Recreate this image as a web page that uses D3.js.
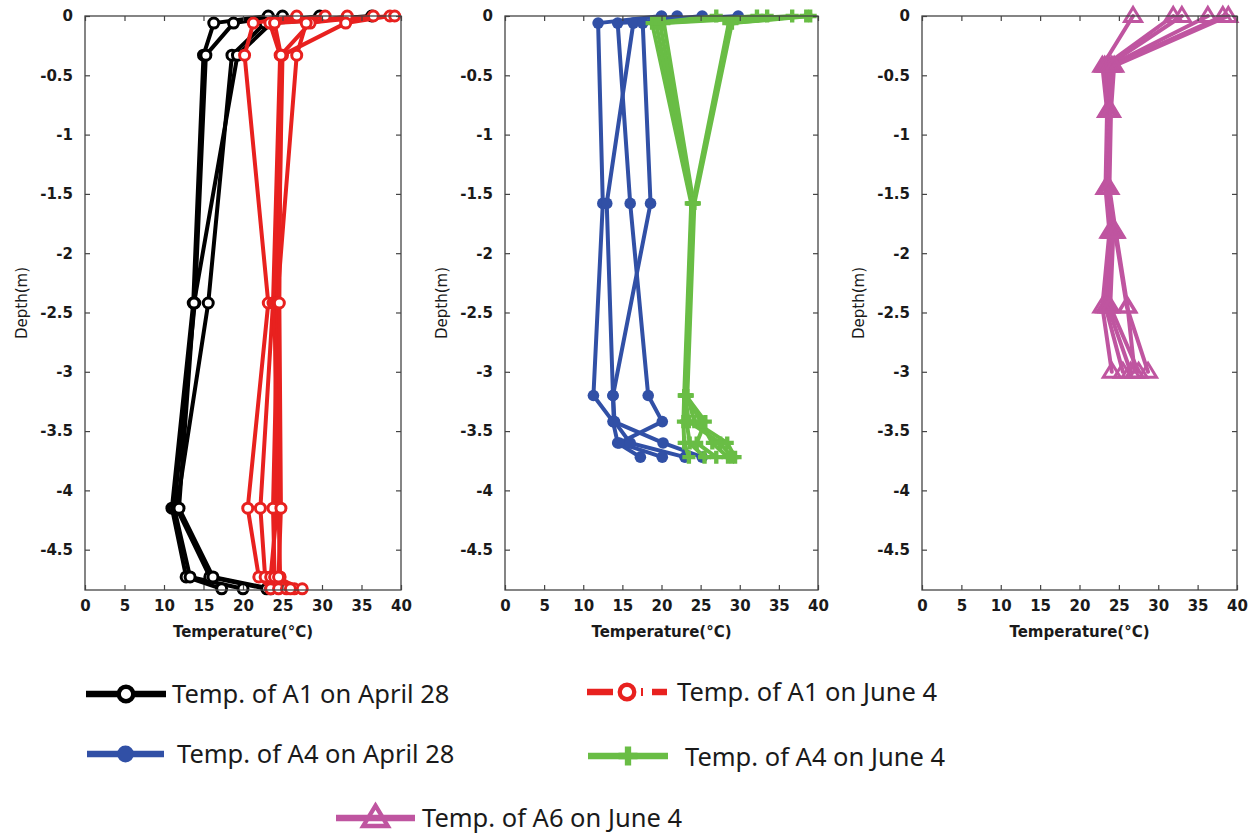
<!DOCTYPE html>
<html>
<head>
<meta charset="utf-8">
<script src="https://cdn.jsdelivr.net/npm/d3@7"></script>
<style>
  html, body { margin: 0; padding: 0; background: #fff; }
  svg { display: block; }
</style>
</head>
<body>
<svg id="chart" width="1259" height="834"></svg>
<script>
// Axis ticks
const tempTicks = [0, 5, 10, 15, 20, 25, 30, 35, 40];
const depthTicks = [0, -0.5, -1, -1.5, -2, -2.5, -3, -3.5, -4, -4.5];

// A1, April 28 — one row per measurement time
const a1AprilDepths = [0, -0.06, -0.33, -2.42, -4.15, -4.73, -4.83];
const a1AprilTemps = [
  [23.2, 16.3, 15.0, 13.7, 11.0, 12.8, 17.3],
  [25.0, 18.8, 15.3, 13.9, 11.3, 13.3, 20.0],
  [29.7, 22.8, 18.6, 15.6, 11.6, 15.8, 23.0],
  [36.3, 23.6, 19.3, 13.8, 11.9, 16.2, 23.5]
];

// A1, June 4
const a1JuneDepths = [0, -0.06, -0.33, -2.42, -4.15, -4.73, -4.83];
const a1JuneTemps = [
  [26.8, 21.3, 20.2, 23.2, 20.6, 22.0, 23.5],
  [30.4, 23.4, 24.7, 23.8, 22.2, 22.8, 24.5],
  [33.2, 28.5, 24.8, 24.0, 24.3, 23.5, 25.5],
  [36.5, 28.0, 26.8, 24.3, 24.5, 24.7, 26.5],
  [38.6, 33.0, 25.0, 24.4, 23.8, 24.0, 27.5],
  [39.2, 24.0, 24.8, 24.6, 24.8, 24.5, 26.0]
];

// A4, April 28
const a4AprilDepths = [0, -0.06, -1.58, -3.2, -3.42, -3.6, -3.72];
const a4AprilTemps = [
  [20.0, 11.9, 12.5, 11.3, 13.8, 14.4, 17.3],
  [25.2, 16.4, 13.0, 13.8, 13.9, 20.2, 25.2],
  [29.8, 14.4, 16.0, 18.3, 20.1, 14.6, 20.1],
  [22.0, 17.6, 18.6, 13.8, 14.0, 16.0, 23.0]
];

// A4, June 4
const a4JuneDepths = [0, -0.06, -1.58, -3.2, -3.42, -3.6, -3.72];
const a4JuneTemps = [
  [27.0, 18.8, 23.8, 22.9, 22.8, 22.9, 23.5],
  [32.2, 19.3, 23.9, 23.0, 23.2, 23.6, 25.5],
  [33.5, 19.8, 24.0, 23.1, 25.6, 24.5, 27.0],
  [36.7, 20.3, 24.1, 23.2, 25.0, 26.5, 28.5],
  [39.0, 29.0, 24.2, 23.3, 24.2, 28.4, 29.4],
  [38.5, 28.6, 24.0, 23.0, 23.5, 27.5, 29.0]
];

// A6, June 4
const a6JuneDepths = [0, -0.42, -0.8, -1.45, -1.82, -2.45, -3.0];
const a6JuneTemps = [
  [26.8, 22.9, 23.5, 23.3, 23.8, 22.9, 24.1],
  [31.9, 23.2, 23.6, 23.4, 24.0, 23.3, 25.5],
  [33.0, 23.5, 23.7, 23.5, 24.2, 23.6, 26.5],
  [36.3, 23.8, 23.8, 23.6, 24.3, 23.9, 27.5],
  [38.2, 24.1, 23.9, 23.7, 24.5, 26.0, 28.7],
  [38.9, 24.4, 24.0, 23.8, 24.6, 26.1, 27.0]
];

const legendLabels = [
  "Temp. of A1 on April 28",
  "Temp. of A1 on June 4",
  "Temp. of A4 on April 28",
  "Temp. of A4 on June 4",
  "Temp. of A6 on June 4"
];

// ---- styles ----
const styles = {
  a1April: { color: "#000000", marker: "circle" },
  a1June:  { color: "#e8211f", marker: "circle" },
  a4April: { color: "#3150a6", marker: "dot" },
  a4June:  { color: "#69bd45", marker: "cross" },
  a6June:  { color: "#bf55a0", marker: "triangle" }
};

const series = {
  a1April: { depths: a1AprilDepths, temps: a1AprilTemps },
  a1June:  { depths: a1JuneDepths,  temps: a1JuneTemps },
  a4April: { depths: a4AprilDepths, temps: a4AprilTemps },
  a4June:  { depths: a4JuneDepths,  temps: a4JuneTemps },
  a6June:  { depths: a6JuneDepths,  temps: a6JuneTemps }
};

const panels = [
  { left: 85,  right: 401,  keys: ["a1April", "a1June"] },
  { left: 505, right: 818,  keys: ["a4April", "a4June"] },
  { left: 922, right: 1237, keys: ["a6June"] }
];

const svg = d3.select("#chart");
svg.append("rect").attr("width", 1259).attr("height", 834).attr("fill", "#fff");

const plotTop = 16, plotBottom = 590;
const y = d3.scaleLinear().domain([0, -4.84]).range([plotTop, plotBottom]);

const axisFont = "'DejaVu Sans', Verdana, sans-serif";

function drawMarker(g, kind, color, cx, cy, scale = 1) {
  if (kind === "circle") {
    g.append("circle").attr("cx", cx).attr("cy", cy).attr("r", 5 * scale)
      .attr("fill", "#fff").attr("stroke", color).attr("stroke-width", 3 * scale);
  } else if (kind === "dot") {
    g.append("circle").attr("cx", cx).attr("cy", cy).attr("r", 5.8 * scale)
      .attr("fill", color);
  } else if (kind === "cross") {
    g.append("path").attr("transform", `translate(${cx},${cy})`)
      .attr("d", d3.symbol(d3.symbolCross, 95 * scale * scale)())
      .attr("fill", color);
  } else if (kind === "triangle") {
    const s = 8.5 * scale;
    g.append("path")
      .attr("d", `M${cx},${cy - s}L${cx + s},${cy + s * 0.65}L${cx - s},${cy + s * 0.65}Z`)
      .attr("fill", "none").attr("stroke", color).attr("stroke-width", 3 * scale)
      .attr("stroke-linejoin", "miter");
  }
}

const line = d3.line();

panels.forEach(p => {
  const x = d3.scaleLinear().domain([0, 40]).range([p.left, p.right]);
  const g = svg.append("g");

  // temperature profiles
  p.keys.forEach(key => {
    const s = series[key], st = styles[key];
    const sg = g.append("g");
    s.temps.forEach(row => {
      const pts = row.map((t, i) => [x(t), y(s.depths[i])]);
      sg.append("path").attr("d", line(pts)).attr("fill", "none")
        .attr("stroke", st.color).attr("stroke-width", 4)
        .attr("stroke-linejoin", "round").attr("stroke-linecap", "round");
    });
    s.temps.forEach(row => {
      row.forEach((t, i) => drawMarker(sg, st.marker, st.color, x(t), y(s.depths[i])));
    });
  });

  // axes: boxed frame with inward ticks on all sides
  const fontStyle = sel => sel.selectAll("text")
    .attr("font-family", axisFont)
    .attr("font-weight", "bold").attr("font-size", 15).attr("fill", "#1a1a1a");

  const ax = svg.append("g").attr("transform", `translate(0,${plotBottom})`)
    .call(d3.axisBottom(x).tickValues(tempTicks).tickSizeInner(-5).tickSizeOuter(0).tickPadding(10));
  fontStyle(ax);
  svg.append("g").attr("transform", `translate(0,${plotTop})`)
    .call(d3.axisTop(x).tickValues(tempTicks).tickSizeInner(-5).tickSizeOuter(0).tickFormat(""));
  const ay = svg.append("g").attr("transform", `translate(${p.left},0)`)
    .call(d3.axisLeft(y).tickValues(depthTicks).tickSizeInner(-5).tickSizeOuter(0).tickPadding(12)
      .tickFormat(d => String(d)));
  fontStyle(ay);
  svg.append("g").attr("transform", `translate(${p.right},0)`)
    .call(d3.axisRight(y).tickValues(depthTicks).tickSizeInner(-5).tickSizeOuter(0).tickFormat(""));

  svg.selectAll(".domain").remove();
  svg.selectAll(".tick line").attr("stroke", "#444").attr("stroke-width", 1.2);

  svg.append("rect").attr("x", p.left).attr("y", plotTop)
    .attr("width", p.right - p.left).attr("height", plotBottom - plotTop)
    .attr("fill", "none").attr("stroke", "#444").attr("stroke-width", 1.3);

  svg.append("text").attr("x", (p.left + p.right) / 2).attr("y", 637)
    .attr("text-anchor", "middle")
    .attr("font-family", axisFont)
    .attr("font-weight", "bold").attr("font-size", 15).attr("fill", "#1a1a1a")
    .text("Temperature(°C)");

  svg.append("text")
    .attr("transform", `translate(${p.left - 58},${(plotTop + plotBottom) / 2}) rotate(-90)`)
    .attr("text-anchor", "middle")
    .attr("font-family", axisFont)
    .attr("font-size", 15).attr("fill", "#1a1a1a")
    .text("Depth(m)");
});

// ---- legend ----
const legendItems = [
  { key: "a1April", x0: 86,  x1: 166, y: 694, tx: 172, ty: 703 },
  { key: "a1June",  x0: 587, x1: 667, y: 692, tx: 677, ty: 701 },
  { key: "a4April", x0: 87,  x1: 164, y: 754, tx: 177, ty: 763 },
  { key: "a4June",  x0: 588, x1: 668, y: 756, tx: 685, ty: 766 },
  { key: "a6June",  x0: 336, x1: 415, y: 818, tx: 422, ty: 827 }
];

const lg = svg.append("g");
legendItems.forEach((item, i) => {
  const st = styles[item.key];
  const mid = (item.x0 + item.x1) / 2;
  if (item.key === "a1June") {
    // dashed line sample: dash, marker, short tick, dash
    lg.append("line").attr("x1", item.x0).attr("x2", item.x0 + 26)
      .attr("y1", item.y).attr("y2", item.y)
      .attr("stroke", st.color).attr("stroke-width", 6.5);
    lg.append("line").attr("x1", mid + 15).attr("x2", mid + 15)
      .attr("y1", item.y - 4).attr("y2", item.y + 4)
      .attr("stroke", st.color).attr("stroke-width", 2);
    lg.append("line").attr("x1", item.x1 - 15).attr("x2", item.x1)
      .attr("y1", item.y).attr("y2", item.y)
      .attr("stroke", st.color).attr("stroke-width", 6.5);
  } else {
    lg.append("line").attr("x1", item.x0).attr("x2", item.x1)
      .attr("y1", item.y).attr("y2", item.y)
      .attr("stroke", st.color).attr("stroke-width", 6.5);
  }
  drawMarker(lg, st.marker, st.color, mid, item.y, 1.45);
  lg.append("text").attr("x", item.tx).attr("y", item.ty)
    .attr("font-family", "'Noto Sans', 'Open Sans', sans-serif")
    .attr("font-size", 25.5).attr("fill", "#1a1a1a")
    .text(legendLabels[i]);
});
</script>
</body>
</html>
